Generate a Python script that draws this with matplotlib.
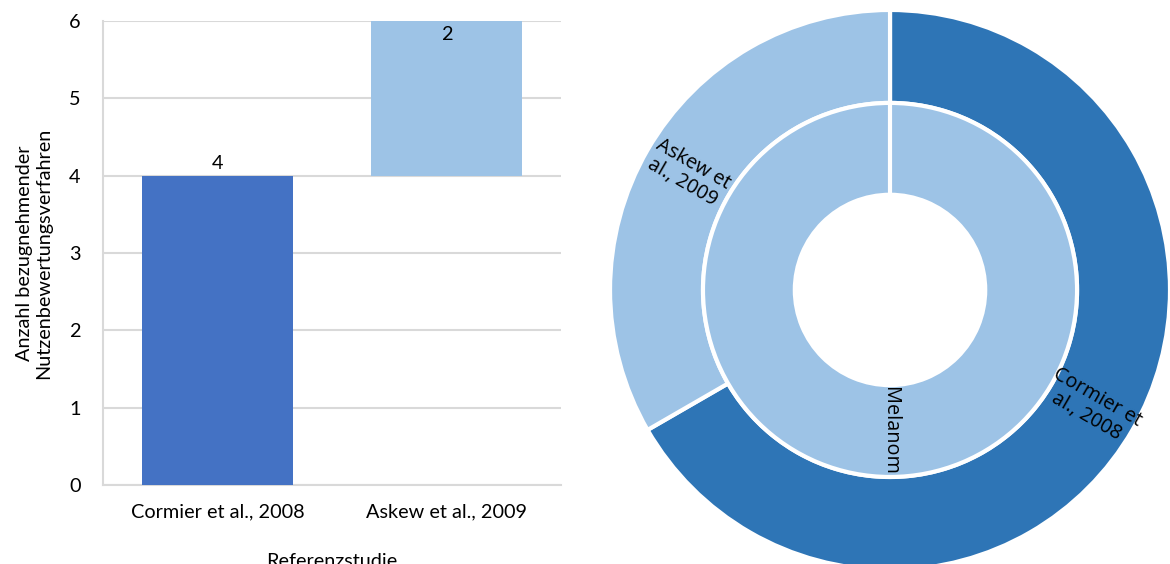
import matplotlib.pyplot as plt
import numpy as np

# Studien und Anzahl der bezugnehmenden Verfahren
studien = ["Cormier et al., 2008", "Askew et al., 2009"]
anzahl = [4, 2]
krankheit = ["Melanom"]
ring_labels = ["Cormier et\nal., 2008", "Askew et\nal., 2009"]

bar_colors = ["#4472C4", "#9DC3E6"]
ring_colors = ["#2E75B6", "#9DC3E6"]
grid_col = "#D9D9D9"

plt.rcParams['font.family'] = ['Lato', 'DejaVu Sans']
fs = 14.3

fig = plt.figure(figsize=(11.7, 5.64), dpi=100)

# --- Wasserfall links ---
ax = fig.add_axes([0.088, 0.140, 0.3915, 0.823])
x = np.arange(len(studien))
bottoms = np.concatenate([[0], np.cumsum(anzahl)[:-1]])
bars = ax.bar(x, anzahl, bottom=bottoms, width=0.66, color=bar_colors, zorder=3)

ax.text(x[0], bottoms[0] + anzahl[0] + 0.04, str(anzahl[0]), ha='center', va='bottom', fontsize=fs)
ax.text(x[1], bottoms[1] + anzahl[1] - 0.06, str(anzahl[1]), ha='center', va='top', fontsize=fs)

ax.set_xlim(-0.5, 1.5)
ax.set_ylim(0, 6)
ax.set_yticks(range(0, 7))
ax.set_xticks(x)
ax.set_xticklabels(studien, fontsize=fs)
ax.tick_params(axis='y', labelsize=fs, length=0, pad=16)
ax.tick_params(axis='x', length=0, pad=13)
ax.yaxis.grid(True, color=grid_col, linewidth=1.5, zorder=0)
for s in ['top', 'right']:
    ax.spines[s].set_visible(False)
for s in ['left', 'bottom']:
    ax.spines[s].set_color(grid_col)
    ax.spines[s].set_linewidth(1.5)
ax.set_ylabel("Anzahl bezugnehmender\nNutzenbewertungsverfahren", fontsize=fs, labelpad=12)
ax.set_xlabel("Referenzstudie", fontsize=fs, labelpad=24)

# --- Sunburst rechts ---
pax = fig.add_axes([0.5214, -0.0106, 0.4786, 0.993])
r_out, r_mid, r_hole = 1.0, 0.668, 0.34
pie_font = dict(fontsize=fs, family=['Open Sans', 'DejaVu Sans'])

w_out, t_out = pax.pie(anzahl, radius=r_out, colors=ring_colors, startangle=90,
                       counterclock=False, labels=ring_labels, rotatelabels=True,
                       labeldistance=(r_out + r_mid) / 2 / r_out,
                       wedgeprops=dict(width=r_out - r_mid, edgecolor='white', linewidth=3),
                       textprops=dict(pie_font, linespacing=1.1))
w_in, t_in = pax.pie([sum(anzahl)], radius=r_mid, colors=[ring_colors[1]], startangle=90,
                     counterclock=False, labels=krankheit, rotatelabels=True,
                     labeldistance=(r_mid + r_hole) / 2 / r_mid,
                     wedgeprops=dict(width=r_mid - r_hole, edgecolor='white', linewidth=3),
                     textprops=pie_font)
for t in list(t_out) + list(t_in):
    t.set_ha('center')
    t.set_va('center')
# Beschriftung im inneren Ring liest von oben nach unten
t_in[0].set_rotation(-90)

# Trennlinie oben im inneren Ring (Start des Kreises)
pax.plot([0, 0], [r_hole, r_mid], color='white', linewidth=3)
pax.set_xlim(-1, 1)
pax.set_ylim(-1, 1)
pax.set_aspect('equal')
pax.axis('off')

fig.savefig("out.png", dpi=100)
